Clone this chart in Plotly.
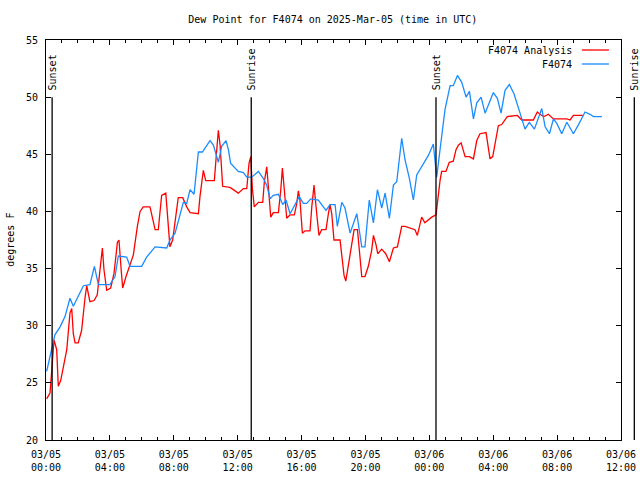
import pandas as pd
import plotly.graph_objects as go

# ---- data (hours after 2025-03-05 00:00 UTC, dew point in degrees F) ----
obs_hours = [0.04, 0.46, 0.56, 0.88, 1.19, 1.5, 1.71, 2.34, 2.75, 3.03, 3.28, 4.0, 4.32, 4.53,
             5.05, 5.26, 5.99, 6.3, 6.83, 7.56, 7.76, 8.08, 8.39, 8.6, 8.81, 9.02, 9.27, 9.43,
             9.54, 9.79, 10.27, 10.48, 10.79, 11.0, 11.27, 11.42, 11.56, 12.04, 12.36, 12.57,
             12.88, 13.3, 13.6, 13.82, 14.03, 14.23, 14.55, 14.82, 15.03, 15.28, 15.59, 15.86,
             16.11, 16.32, 16.58, 17.05, 17.53, 17.78, 18.1, 18.24, 18.52, 18.72, 19.04, 19.46,
             19.77, 19.97, 20.24, 20.5, 20.75, 21.02, 21.23, 21.5, 21.75, 21.96, 22.27, 22.48,
             22.75, 23.0, 23.21, 23.52, 23.94, 24.25, 24.46, 24.67, 24.98, 25.3, 25.5, 25.76,
             26.03, 26.3, 26.51, 26.76, 26.97, 27.24, 27.49, 28.01, 28.26, 28.49, 28.74, 29.01,
             29.3, 29.68, 29.99, 30.26, 30.58, 31.04, 31.25, 31.52, 31.77, 31.98, 32.29, 32.61,
             33.02, 33.34, 33.75, 34.06, 34.27, 34.8]
obs_values = [26.0, 28.75, 29.2, 29.9, 30.8, 32.4, 31.7, 33.5, 33.6, 35.2, 33.6, 33.6, 34.3, 36.1,
              36.0, 35.2, 35.2, 36.0, 36.9, 36.8, 37.5, 38.1, 39.8, 40.8, 40.7, 41.9, 41.5, 43.9,
              45.2, 45.2, 46.2, 45.8, 44.3, 45.7, 46.2, 45.4, 44.2, 43.5, 43.4, 43.0,
              43.0, 43.5, 42.9, 42.3, 41.1, 41.4, 41.5, 40.6, 41.0, 39.8, 40.6, 41.3,
              40.7, 40.7, 41.1, 41.0, 40.1, 40.6, 40.6, 38.7, 40.8, 40.3, 38.1, 39.8,
              36.9, 36.9, 41.0, 39.0, 41.9, 40.3, 41.6, 39.4, 42.3, 42.6, 46.4, 44.5,
              42.9, 41.0, 43.2, 43.9, 44.9, 45.9, 43.0, 45.4, 48.9, 51.0, 51.0, 51.9,
              51.3, 50.0, 50.5, 48.1, 49.5, 50.0, 48.6, 50.4, 49.9, 48.6, 50.6, 51.1,
              50.3, 48.6, 47.2, 47.8, 47.2, 49.0, 47.4, 46.8, 48.1, 47.7, 46.8, 47.8,
              46.8, 47.6, 48.7, 48.5, 48.3, 48.3]

ana_hours = [0.04, 0.25, 0.36, 0.5, 0.67, 0.77, 0.92, 1.09, 1.3, 1.5, 1.61, 1.71, 1.82, 2.02,
             2.23, 2.44, 2.55, 2.75, 3.01, 3.21, 3.38, 3.53, 3.63, 3.8, 4.05, 4.26, 4.47, 4.57,
             4.7, 4.8, 5.01, 5.22, 5.47, 5.72, 5.89, 6.09, 6.51, 6.72, 6.83, 7.03, 7.24, 7.5,
             7.62, 7.76, 7.93, 8.18, 8.28, 8.56, 8.81, 9.02, 9.54, 9.64, 9.75, 9.85, 10.0,
             10.54, 10.64, 10.79, 10.9, 11.0, 11.06, 11.52, 12.04, 12.36, 12.57, 12.71, 12.82,
             12.92, 13.04, 13.3, 13.57, 13.67, 13.82, 13.92, 14.07, 14.23, 14.55, 14.7, 14.8,
             14.92, 15.07, 15.28, 15.55, 15.7, 15.8, 15.9, 16.05, 16.22, 16.53, 16.64, 16.78,
             16.95, 17.09, 17.26, 17.53, 17.68, 17.78, 17.89, 18.03, 18.41, 18.52, 18.66, 18.77,
             18.93, 19.14, 19.29, 19.5, 19.62, 19.77, 19.97, 20.18, 20.39, 20.5, 20.66, 20.77,
             21.02, 21.27, 21.5, 21.75, 22.0, 22.12, 22.27, 22.48, 22.9, 23.1, 23.25, 23.52,
             23.72, 24.15, 24.42, 24.52, 24.67, 24.77, 25.04, 25.25, 25.5, 25.67, 25.82, 25.99,
             26.24, 26.51, 26.76, 26.97, 27.17, 27.55, 27.7, 27.8, 27.97, 28.18, 28.32, 28.53,
             28.88, 29.51, 29.79, 30.51, 30.76, 31.04, 31.18, 31.45, 31.77, 32.61, 32.81, 33.02,
             33.61]
ana_values = [23.6, 24.1, 26.1, 28.75, 27.9, 24.7, 25.2, 26.3, 27.9, 31.1, 31.5, 29.3, 28.5, 28.5,
              29.6, 32.4, 33.5, 32.1, 32.2, 32.7, 34.7, 36.8, 34.9, 33.1, 33.3, 34.6, 37.3, 37.5,
              35.0, 33.3, 34.3, 35.2, 36.2, 38.7, 40.0, 40.4, 40.4, 39.1, 38.4, 38.4, 41.4, 41.6,
              39.0, 36.9, 37.5, 40.3, 41.2, 41.2, 40.4, 39.9, 39.8, 41.3, 42.5, 43.6, 42.7,
              42.7, 44.5, 47.1, 45.8, 43.6, 42.2, 42.1, 41.6, 42.0, 42.0, 44.2, 44.8,
              42.0, 40.4, 40.8, 40.8, 42.6, 43.9, 42.2, 39.5, 39.9, 39.9, 41.9, 43.8,
              41.9, 39.4, 39.7, 39.7, 40.7, 41.8, 41.0, 38.1, 38.3, 38.3, 40.4, 42.3,
              39.8, 37.9, 38.4, 38.4, 39.8, 40.6, 39.8, 37.5, 37.5, 36.3, 34.4, 33.9,
              35.3, 37.2, 38.4, 38.4, 36.6, 34.3, 34.3, 35.2, 36.6, 37.9, 37.1, 36.3,
              36.7, 36.3, 35.6, 36.8, 36.9, 37.8, 38.7, 38.7, 38.5, 38.4, 37.9, 39.5,
              39.0, 39.5, 39.7, 41.0, 42.7, 43.5, 43.5, 44.3, 44.4, 45.4, 45.8, 46.0,
              44.8, 44.8, 44.6, 46.2, 46.8, 46.9, 45.7, 44.6, 44.8, 46.5, 47.5, 47.6,
              48.3, 48.4, 48.0, 48.0, 48.7, 48.4, 48.3, 48.5, 48.1, 48.1, 48.0, 48.4,
              48.4]

sun_events = ["Sunset", "Sunrise", "Sunset", "Sunrise"]
sun_times = ["2025-03-05 00:23", "2025-03-05 12:51", "2025-03-06 00:25", "2025-03-06 12:50"]
sun_marker_top = 50  # degrees F where event lines end

series_names = ["F4074 Analysis", "F4074"]
series_colors = ["#ff0000", "#1a8cff"]

x_range = ["2025-03-05 00:00", "2025-03-06 12:00"]
y_range = [20, 55]

base = pd.Timestamp("2025-03-05 00:00")
obs_t = base + pd.to_timedelta(obs_hours, unit="h")
ana_t = base + pd.to_timedelta(ana_hours, unit="h")

FONT = "DejaVu Sans Mono"

fig = go.Figure()
fig.add_trace(go.Scatter(x=ana_t, y=ana_values, mode="lines", name=series_names[0],
                         line=dict(color=series_colors[0], width=1.3), showlegend=False))
fig.add_trace(go.Scatter(x=obs_t, y=obs_values, mode="lines", name=series_names[1],
                         line=dict(color=series_colors[1], width=1.3), showlegend=False))

t0 = pd.Timestamp(x_range[0])
t1 = pd.Timestamp(x_range[1])
span = (t1 - t0).total_seconds()
top_frac = (sun_marker_top - y_range[0]) / (y_range[1] - y_range[0])

shapes = []
annotations = []
for name, ts in zip(sun_events, sun_times):
    px = (pd.Timestamp(ts) - t0).total_seconds() / span
    shapes.append(dict(type="line", xref="paper", yref="paper", x0=px, x1=px,
                       y0=0, y1=top_frac, line=dict(color="black", width=1.3)))
    annotations.append(dict(text=name, xref="paper", yref="paper", x=px, y=top_frac + 0.012,
                            xanchor="center", yanchor="bottom", textangle=-90, showarrow=False,
                            font=dict(family=FONT, size=10, color="black")))

# gnuplot-style key (text left of the line sample)
key_rows = [0.975, 0.94]
for name, color, ky in zip(series_names, series_colors, key_rows):
    annotations.append(dict(text=name, xref="paper", yref="paper", x=0.918, y=ky,
                            xanchor="right", yanchor="middle", showarrow=False,
                            font=dict(family=FONT, size=10, color="black")))
    shapes.append(dict(type="line", xref="paper", yref="paper", x0=0.932, x1=0.979,
                       y0=ky, y1=ky, line=dict(color=color, width=1.3)))

# y-axis title
annotations.append(dict(text="degrees F", xref="paper", yref="paper", x=-0.063, y=0.5,
                        xanchor="center", yanchor="middle", textangle=-90, showarrow=False,
                        font=dict(family=FONT, size=10, color="black")))

fig.update_layout(
    width=640, height=480,
    margin=dict(l=46, r=19, t=40, b=40, autoexpand=False),
    paper_bgcolor="white", plot_bgcolor="white",
    font=dict(family=FONT, size=10, color="black"),
    title=dict(text="Dew Point for F4074 on 2025-Mar-05 (time in UTC)", x=0.52, xanchor="center",
               y=0.96, yanchor="middle", font=dict(family=FONT, size=10, color="black")),
    shapes=shapes, annotations=annotations,
    showlegend=False,
)
fig.update_xaxes(
    type="date", range=x_range, showgrid=False, zeroline=False, automargin=False,
    showline=True, linecolor="black", linewidth=1, mirror="ticks",
    ticks="inside", ticklen=5, tickcolor="black", ticklabelstandoff=5,
    tick0="2025-03-05 00:00", dtick=4 * 3600 * 1000,
    tickformat="%m/%d<br>%H:%M", tickfont=dict(family=FONT, size=10),
    minor=dict(ticks="inside", ticklen=3, dtick=3600 * 1000, tickcolor="black", showgrid=False),
)
fig.update_yaxes(
    range=y_range, showgrid=False, zeroline=False, automargin=False,
    showline=True, linecolor="black", linewidth=1, mirror="ticks",
    ticks="inside", ticklen=5, tickcolor="black", dtick=5, ticklabelstandoff=5,
    tickfont=dict(family=FONT, size=10),
)

fig.write_html("out.html", config={"displayModeBar": False},
               post_script="document.body.style.margin='0';")
